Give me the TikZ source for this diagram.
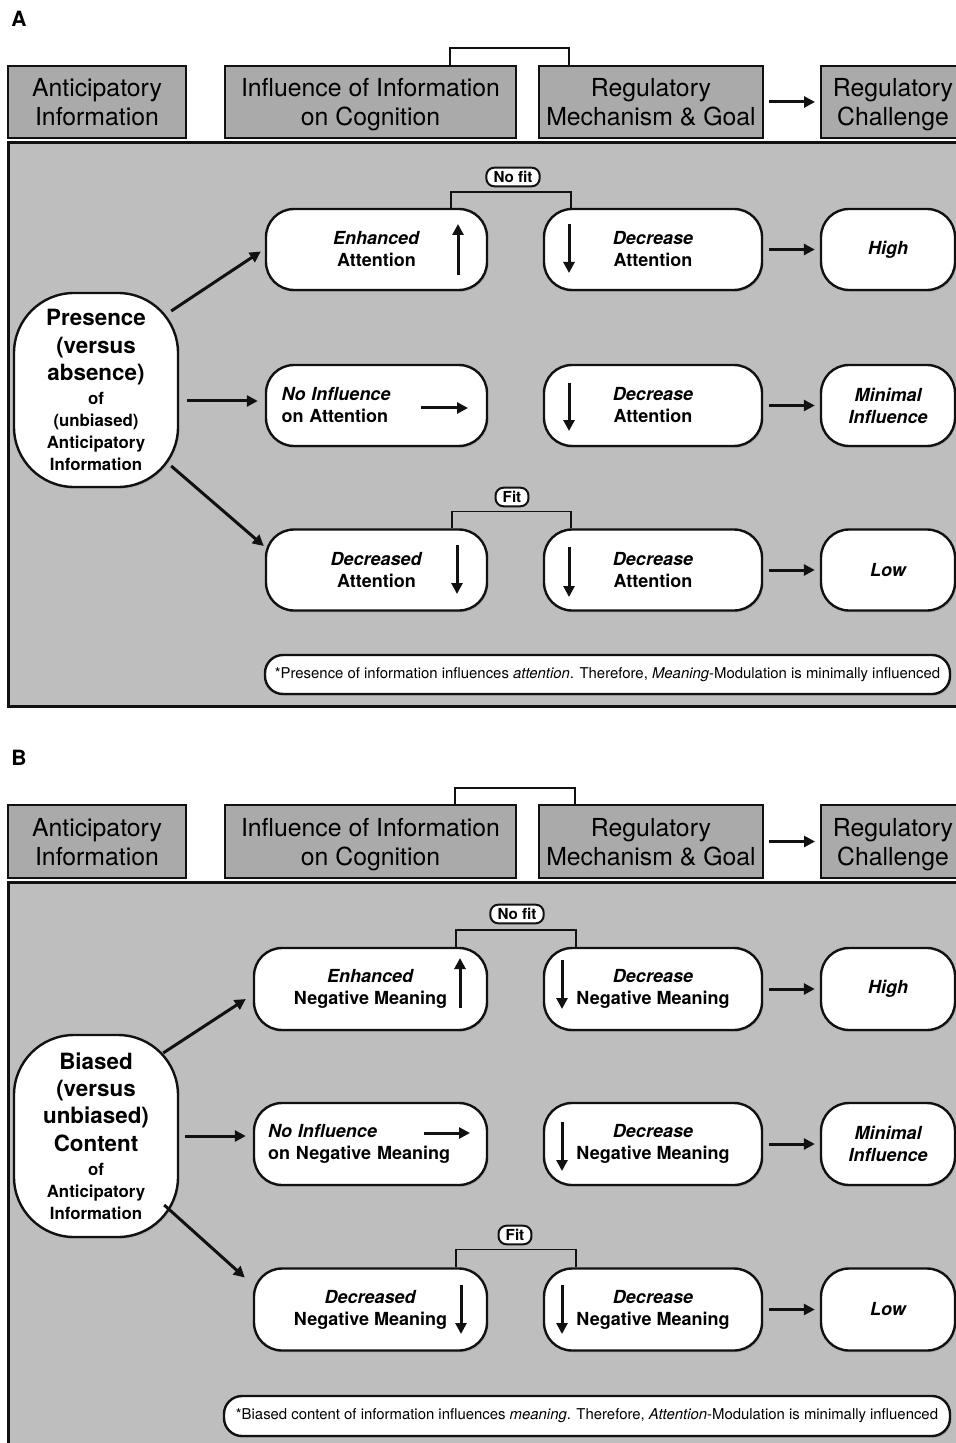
\documentclass[tikz,border=0pt]{standalone}
\usepackage{fontspec}
\setmainfont{TeX Gyre Heros}
\usepackage{xcolor}
\definecolor{ink}{HTML}{111111}
\definecolor{panel}{HTML}{BEBEBE}
\definecolor{head}{HTML}{AAAAAA}
\usepackage{tikz}
\usetikzlibrary{arrows.meta, shadows}
\tikzset{
  >={Triangle[length=5.5pt, width=5.5pt]},
  hdr/.style={draw=ink, fill=head, line width=1pt, minimum height=36pt, align=center,
    inner sep=0pt, text height=27pt, text depth=3pt, font=\fontsize{12.4}{14.5}\selectfont},
  pill/.style={draw=ink, fill=white, line width=1.2pt, rounded corners=14pt, minimum height=40.5pt,
    align=center, inner sep=0pt, font=\fontsize{9}{11}\selectfont\bfseries,
    drop shadow={opacity=0.3, shadow xshift=0.7pt, shadow yshift=-0.9pt}},
  src/.style={pill, rounded corners=30pt, minimum width=82pt, font=\fontsize{8.4}{11}\selectfont\bfseries},
  outc/.style={pill, minimum width=67pt, font=\fontsize{9}{11}\selectfont\bfseries\itshape},
  tag/.style={draw=ink, fill=white, line width=1pt, rounded corners=4pt, inner xsep=3.6pt,
    inner ysep=1.8pt, font=\fontsize{7.6}{9}\selectfont\bfseries},
  note/.style={draw=ink, fill=white, line width=1.2pt, rounded corners=9pt, inner sep=0pt,
    font=\fontsize{7.45}{9}\selectfont,
    drop shadow={opacity=0.3, shadow xshift=0.7pt, shadow yshift=-0.9pt}},
  panelbox/.style={draw=ink, fill=panel, line width=1.5pt},
  flow/.style={->, line width=1.5pt, color=ink},
  glyph/.style={->, line width=1.5pt, color=ink},
  brk/.style={line width=0.8pt, color=ink},
  lbl/.style={font=\fontsize{10.5}{12}\selectfont\bfseries},
}
\newcommand{\bigline}[1]{{\fontsize{11.2}{13.5}\selectfont #1}}

\begin{document}
\begin{tikzpicture}[x=0.5pt, y=-0.5pt]
  \useasboundingbox (0,0) rectangle (956,1443);
  \fill[white] (0,0) rectangle (956,1443);
  \clip (0,0) rectangle (956,1443);

  % panel A
  \node[lbl] (la) at (19,19) {A};
  \node[hdr, minimum width=89pt] (ha1) at (97,102) {Anticipatory\\Information};
  \node[hdr, minimum width=145.5pt] (ha2) at (370.5,102) {Influence of Information\\on Cognition};
  \node[hdr, minimum width=112pt] (ha3) at (651,102) {Regulatory\\Mechanism \& Goal};
  \node[hdr, minimum width=72pt] (ha4) at (893,102) {Regulatory\\Challenge};
  \draw[flow, shorten <=2.5pt, shorten >=2.5pt] (ha3) -- (ha4);
  \draw[brk] ([xshift=-33.5pt]ha2.north east) -- ++(0,-17) -| ([xshift=15.5pt]ha3.north west);

  \draw[panelbox] (8,143) rectangle (962,706);

  \node[src, minimum height=97pt] (pa) at (96,390)
    {\bigline{Presence}\\[3pt]\bigline{(versus}\\[2.5pt]\bigline{absence)}\\[1pt]of\\(unbiased)\\Anticipatory\\Information};

  \node[pill, minimum width=110.5pt] (ea) at (376.5,249.5) {\textit{Enhanced}\\Attention};
  \node[pill, minimum width=109pt] (da1) at (653,249.5) {\textit{Decrease}\\Attention};
  \node[outc] (hia) at (888,249.5) {High};
  \node[pill, minimum width=110.5pt, text width=95pt, align=left] (ni) at (376.5,405.5)
    {\textit{No Influence}\\on Attention};
  \node[pill, minimum width=109pt] (da2) at (653,405.5) {\textit{Decrease}\\Attention};
  \node[outc] (mia) at (888,405.5) {Minimal\\Influence};
  \node[pill, minimum width=110.5pt] (dc) at (376.5,570) {\textit{Decreased}\\Attention};
  \node[pill, minimum width=109pt] (da3) at (653,570) {\textit{Decrease}\\Attention};
  \node[outc] (loa) at (888,570) {Low};

  \draw[glyph] (458,275) -- (458,224);
  \draw[glyph] (569,224) -- (569,273);
  \draw[glyph] (421,408) -- (468,408);
  \draw[glyph] (569,383) -- (569,431);
  \draw[glyph] (457,545) -- (457,594);
  \draw[glyph] (569,547) -- (569,597);

  \coordinate (pa1) at ([shift={(-8,-79)}]pa.east);
  \coordinate (pa2) at ([shift={(8,11)}]pa.east);
  \coordinate (pa3) at ([shift={(-8,76)}]pa.east);
  \draw[flow] (pa1) -- ([shift={(-4,2)}]ea.west);
  \draw[flow, shorten >=3.5pt] (pa2) -- (pa2 -| ni.west);
  \draw[flow] (pa3) -- ([shift={(-1,-24)}]dc.west);
  \draw[flow, shorten <=3pt, shorten >=2.5pt] (da1) -- (hia);
  \draw[flow, shorten <=3pt, shorten >=2.5pt] (da2) -- (mia);
  \draw[flow, shorten <=3pt, shorten >=2.5pt] (da3) -- (loa);

  \draw[brk] ([xshift=-18.5pt]ea.north east) -- ++(0,-16) -| ([xshift=14pt]da1.north west);
  \node[tag] (nfa) at (513,177) {No fit};
  \draw[brk] ([xshift=-18pt]dc.north east) -- ++(0,-17) -| ([xshift=14pt]da3.north west);
  \node[tag] (fa) at (512,497) {Fit};

  \node[note, minimum width=342.5pt, minimum height=19.5pt] (na) at (607.5,674.5)
    {*Presence of information influences \textit{attention}. Therefore, \textit{Meaning}-Modulation is minimally influenced};

  % panel B
  \node[lbl] (lb) at (19,758) {B};
  \node[hdr, minimum width=89pt, minimum height=36.5pt] (hb1) at (97,841.5) {Anticipatory\\Information};
  \node[hdr, minimum width=145.5pt, minimum height=36.5pt] (hb2) at (370.5,841.5) {Influence of Information\\on Cognition};
  \node[hdr, minimum width=112pt, minimum height=36.5pt] (hb3) at (651,841.5) {Regulatory\\Mechanism \& Goal};
  \node[hdr, minimum width=72pt, minimum height=36.5pt] (hb4) at (893,841.5) {Regulatory\\Challenge};
  \draw[flow, shorten <=2.5pt, shorten >=2.5pt] (hb3) -- (hb4);
  \draw[brk] ([xshift=-31pt]hb2.north east) -- ++(0,-16) -| ([xshift=18.5pt]hb3.north west);

  \draw[panelbox] (8,882) rectangle (962,1450);

  \node[src, minimum height=101pt] (pb) at (96,1136)
    {\bigline{Biased}\\[2.5pt]\bigline{(versus}\\[2.5pt]\bigline{unbiased)}\\[3pt]\bigline{Content}\\[1pt]of\\Anticipatory\\Information};

  \node[pill, minimum width=116.5pt, minimum height=41pt] (ebm) at (370.5,989) {\textit{Enhanced}\\Negative Meaning};
  \node[pill, minimum width=109pt, minimum height=41pt] (dbm1) at (653,989) {\textit{Decrease}\\Negative Meaning};
  \node[outc, minimum height=41pt] (hib) at (888,989) {High};
  \node[pill, minimum width=116.5pt, minimum height=41pt, text width=102.5pt, align=left] (nib) at (370.5,1144)
    {\textit{No Influence}\\on Negative Meaning};
  \node[pill, minimum width=109pt, minimum height=41pt] (dbm2) at (653,1144) {\textit{Decrease}\\Negative Meaning};
  \node[outc, minimum height=41pt] (mib) at (888,1144) {Minimal\\Influence};
  \node[pill, minimum width=116.5pt, minimum height=41pt] (dnb) at (370.5,1309.5) {\textit{Decreased}\\Negative Meaning};
  \node[pill, minimum width=109pt, minimum height=41pt] (dbm3) at (653,1309.5) {\textit{Decrease}\\Negative Meaning};
  \node[outc, minimum height=41pt] (lob) at (888,1309.5) {Low};

  \draw[glyph] (460,1008) -- (460,958);
  \draw[glyph] (562,960) -- (562,1009);
  \draw[glyph] (424,1133) -- (470,1133);
  \draw[glyph] (562,1122) -- (562,1171);
  \draw[glyph] (461,1285) -- (461,1334);
  \draw[glyph] (562,1285) -- (562,1334);

  \coordinate (pb1) at ([shift={(-16,-83)}]pb.east);
  \coordinate (pb2) at ([shift={(6,0)}]pb.east);
  \coordinate (pb3) at ([shift={(-15,69)}]pb.east);
  \draw[flow] (pb1) -- ([shift={(-7,10)}]ebm.west);
  \draw[flow, shorten >=3.5pt] (pb2) -- (pb2 -| nib.west);
  \draw[flow] (pb3) -- ([shift={(-8,-32)}]dnb.west);
  \draw[flow, shorten <=3pt, shorten >=2.5pt] (dbm1) -- (hib);
  \draw[flow, shorten <=3pt, shorten >=2.5pt] (dbm2) -- (mib);
  \draw[flow, shorten <=3pt, shorten >=2.5pt] (dbm3) -- (lob);

  \draw[brk] ([xshift=-16pt]ebm.north east) -- ++(0,-17) -| ([xshift=16.5pt]dbm1.north west);
  \node[tag] (nfb) at (517,914) {No fit};
  \draw[brk] ([xshift=-16pt]dnb.north east) -- ++(0,-18) -| ([xshift=16.5pt]dbm3.north west);
  \node[tag] (fb) at (515,1235) {Fit};

  \node[note, minimum width=363pt, minimum height=20pt] (nb) at (587,1416)
    {*Biased content of information influences \textit{meaning}. Therefore, \textit{Attention}-Modulation is minimally influenced};
\end{tikzpicture}
\end{document}
